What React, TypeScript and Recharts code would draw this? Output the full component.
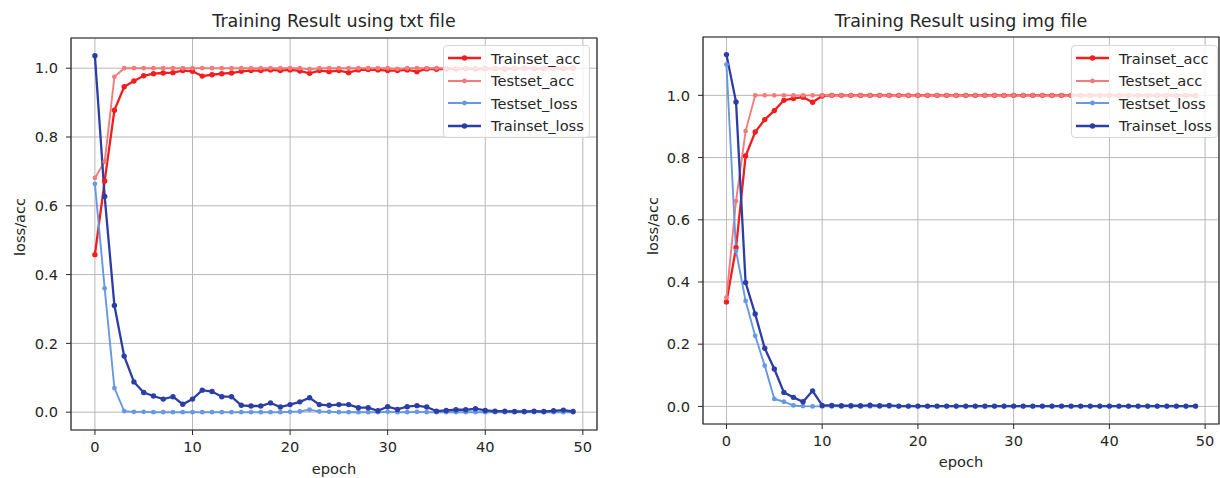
import React from 'react';
import {
  LineChart,
  Line,
  XAxis,
  YAxis,
  CartesianGrid,
  ReferenceArea,
  Legend,
} from 'recharts';

// epochs 0..49
const epochs = Array.from({ length: 50 }, (_, i) => i);

// --- txt file run ---
const txtTrainAcc = [
  0.458, 0.672, 0.878, 0.946, 0.963, 0.978, 0.984, 0.986, 0.987, 0.993,
  0.991, 0.977, 0.981, 0.984, 0.986, 0.991, 0.993, 0.993, 0.995, 0.993,
  0.995, 0.992, 0.985, 0.993, 0.99, 0.993, 0.987, 0.995, 0.996, 0.995,
  0.993, 0.993, 0.995, 0.99, 0.998, 0.997, 0.998, 0.998, 0.999, 0.998,
  0.999, 0.999, 0.998, 0.999, 1.0, 0.999, 0.999, 1.0, 0.999, 1.0,
];
const txtTestAcc = [
  0.681, 0.728, 0.975, 1.0, 1.0, 1.0, 1.0, 1.0, 1.0, 1.0,
  1.0, 1.0, 1.0, 1.0, 1.0, 1.0, 1.0, 1.0, 1.0, 1.0,
  1.0, 1.0, 0.997, 1.0, 1.0, 1.0, 1.0, 1.0, 1.0, 1.0,
  1.0, 0.998, 1.0, 1.0, 1.0, 1.0, 1.0, 1.0, 1.0, 1.0,
  1.0, 1.0, 1.0, 1.0, 1.0, 1.0, 1.0, 1.0, 1.0, 1.0,
];
const txtTestLoss = [
  0.664, 0.36, 0.07, 0.003, 0.001, 0.001, 0.0, 0.0, 0.0, 0.0,
  0.0, 0.0, 0.0, 0.0, 0.0, 0.0, 0.0, 0.0, 0.0, 0.0,
  0.001, 0.002, 0.007, 0.002, 0.001, 0.0, 0.0, 0.0, 0.0, 0.0,
  0.001, 0.0, 0.0, 0.001, 0.0, 0.0, 0.0, 0.0, 0.0, 0.0,
  0.0, 0.0, 0.0, 0.0, 0.0, 0.0, 0.0, 0.0, 0.0, 0.0,
];
const txtTrainLoss = [
  1.036, 0.627, 0.31, 0.163, 0.088, 0.057, 0.047, 0.038, 0.045, 0.023,
  0.038, 0.064, 0.06, 0.045, 0.045, 0.02, 0.018, 0.018, 0.027, 0.015,
  0.022, 0.03, 0.042, 0.022, 0.02, 0.022, 0.022, 0.013, 0.013, 0.004,
  0.016, 0.008, 0.016, 0.019, 0.015, 0.003, 0.005, 0.007, 0.007, 0.01,
  0.005, 0.003, 0.003, 0.002, 0.002, 0.003, 0.002, 0.004, 0.006, 0.002,
];

// --- img file run ---
const imgTrainAcc = [
  0.336, 0.51, 0.805, 0.882, 0.922, 0.951, 0.984, 0.99, 0.994, 0.978,
  0.998, 1.0, 1.0, 1.0, 1.0, 1.0, 1.0, 1.0, 1.0, 1.0,
  1.0, 1.0, 1.0, 1.0, 1.0, 1.0, 1.0, 1.0, 1.0, 1.0,
  1.0, 1.0, 1.0, 1.0, 1.0, 1.0, 1.0, 1.0, 1.0, 1.0,
  1.0, 1.0, 1.0, 1.0, 1.0, 1.0, 1.0, 1.0, 1.0, 1.0,
];
const imgTestAcc = [
  0.35, 0.66, 0.885, 1.0, 1.0, 1.0, 1.0, 1.0, 1.0, 1.0,
  1.0, 1.0, 1.0, 1.0, 1.0, 1.0, 1.0, 1.0, 1.0, 1.0,
  1.0, 1.0, 1.0, 1.0, 1.0, 1.0, 1.0, 1.0, 1.0, 1.0,
  1.0, 1.0, 1.0, 1.0, 1.0, 1.0, 1.0, 1.0, 1.0, 1.0,
  1.0, 1.0, 1.0, 1.0, 1.0, 1.0, 1.0, 1.0, 1.0, 1.0,
];
const imgTestLoss = [
  1.099, 0.5, 0.339, 0.227, 0.131, 0.024, 0.015, 0.003, 0.001, 0.0,
  0.0, 0.0, 0.0, 0.0, 0.0, 0.0, 0.0, 0.0, 0.0, 0.0,
  0.0, 0.0, 0.0, 0.0, 0.0, 0.0, 0.0, 0.0, 0.0, 0.0,
  0.0, 0.0, 0.0, 0.0, 0.0, 0.0, 0.0, 0.0, 0.0, 0.0,
  0.0, 0.0, 0.0, 0.0, 0.0, 0.0, 0.0, 0.0, 0.0, 0.0,
];
const imgTrainLoss = [
  1.131, 0.979, 0.398, 0.297, 0.187, 0.12, 0.045, 0.029, 0.015, 0.05,
  0.003, 0.003, 0.002, 0.002, 0.002, 0.004, 0.002, 0.003, 0.001, 0.001,
  0.001, 0.001, 0.001, 0.001, 0.001, 0.001, 0.001, 0.001, 0.001, 0.001,
  0.001, 0.001, 0.001, 0.001, 0.001, 0.001, 0.001, 0.001, 0.001, 0.001,
  0.001, 0.001, 0.001, 0.001, 0.001, 0.001, 0.001, 0.001, 0.001, 0.001,
];

const xTicks = [0, 10, 20, 30, 40, 50];
const yTicks = [0, 0.2, 0.4, 0.6, 0.8, 1.0];

// plotting order = legend order
const SERIES = [
  { key: 'trainAcc', name: 'Trainset_acc', color: '#f01e1e', width: 2.3, r: 2.7 },
  { key: 'testAcc', name: 'Testset_acc', color: '#f27b7b', width: 1.9, r: 2.4 },
  { key: 'testLoss', name: 'Testset_loss', color: '#6798e2', width: 1.9, r: 2.4 },
  { key: 'trainLoss', name: 'Trainset_loss', color: '#2c3ea6', width: 2.3, r: 2.7 },
];

const FONT = 'DejaVu Sans, sans-serif';
const INK = '#262626';
const X_MIN = -2.45;
const X_MAX = 51.45;

function buildRows(trainAcc: number[], testAcc: number[], testLoss: number[], trainLoss: number[]) {
  return epochs.map((epoch, i) => ({
    epoch,
    trainAcc: trainAcc[i],
    testAcc: testAcc[i],
    testLoss: testLoss[i],
    trainLoss: trainLoss[i],
  }));
}

// matplotlib-style legend box, always in SERIES order
function LegendBox() {
  return (
    <div
      style={{
        boxSizing: 'border-box',
        width: 147,
        height: 93,
        padding: '1px 4px 2px 4px',
        background: 'rgba(255,255,255,0.8)',
        border: '1px solid #d6d6d6',
        borderRadius: 4,
        fontFamily: FONT,
        fontSize: 14.6,
        color: INK,
      }}
    >
      {SERIES.map((s) => (
        <div key={s.key} style={{ display: 'flex', alignItems: 'center', height: 22.5 }}>
          <svg width={33} height={10} style={{ marginRight: 10, flex: 'none' }}>
            <line x1={0} y1={5} x2={33} y2={5} stroke={s.color} strokeWidth={s.width} />
            <circle cx={16.5} cy={5} r={s.r} fill={s.color} />
          </svg>
          <span style={{ whiteSpace: 'nowrap' }}>{s.name}</span>
        </div>
      ))}
    </div>
  );
}

type PanelProps = {
  left: number;
  title: string;
  rows: ReturnType<typeof buildRows>;
  yDomain: [number, number];
  margin: { top: number; right: number; bottom: number; left: number };
  legendAt: { left: number; top: number };
  titleY: number;
  yLabelAt: { x: number; y: number };
  xLabelY: number;
};

function Panel({ left, title, rows, yDomain, margin, legendAt, titleY, yLabelAt, xLabelY }: PanelProps) {
  const W = 610;
  const H = 478;
  const plotCenter = margin.left + 40 + (W - margin.left - 40 - margin.right) / 2;
  const tickStyle = { fill: INK, fontSize: 14.6, fontFamily: FONT };
  return (
    <div style={{ position: 'absolute', left, top: 0, width: W, height: H }}>
      <LineChart width={W} height={H} data={rows} margin={margin}>
        <CartesianGrid stroke="#b8b8b8" strokeWidth={1} />
        <XAxis
          type="number"
          dataKey="epoch"
          domain={[X_MIN, X_MAX]}
          ticks={xTicks}
          allowDataOverflow
          height={30}
          axisLine={false}
          tickSize={5}
          tickMargin={7}
          tickLine={{ stroke: INK }}
          tick={tickStyle}
        />
        <YAxis
          type="number"
          domain={yDomain}
          ticks={yTicks}
          allowDataOverflow
          width={40}
          axisLine={false}
          tickSize={5}
          tickMargin={8}
          tickLine={{ stroke: INK }}
          tick={tickStyle}
          tickFormatter={(v: number) => v.toFixed(1)}
        />
        <ReferenceArea
          x1={X_MIN}
          x2={X_MAX}
          y1={yDomain[0]}
          y2={yDomain[1]}
          fill="none"
          stroke={INK}
          strokeWidth={1.2}
          ifOverflow="visible"
        />
        {SERIES.map((s) => (
          <Line
            key={s.key}
            type="linear"
            dataKey={s.key}
            name={s.name}
            stroke={s.color}
            strokeWidth={s.width}
            dot={{ r: s.r, fill: s.color, stroke: 'none' }}
            activeDot={false}
            isAnimationActive={false}
          />
        ))}
        <Legend
          layout="vertical"
          align="center"
          verticalAlign="middle"
          wrapperStyle={{ left: legendAt.left, top: legendAt.top, width: 147, height: 93 }}
          content={() => <LegendBox />}
        />
      </LineChart>
      <svg
        width={W}
        height={H}
        style={{ position: 'absolute', left: 0, top: 0, pointerEvents: 'none' }}
        fontFamily={FONT}
        fill={INK}
      >
        <text x={plotCenter} y={titleY} fontSize={17.5} textAnchor="middle">
          {title}
        </text>
        <text x={plotCenter} y={xLabelY} fontSize={14.6} textAnchor="middle">
          epoch
        </text>
        <text
          x={yLabelAt.x}
          y={yLabelAt.y}
          fontSize={14.6}
          textAnchor="middle"
          transform={`rotate(-90 ${yLabelAt.x} ${yLabelAt.y})`}
        >
          loss/acc
        </text>
      </svg>
    </div>
  );
}

export default function App() {
  const txtRows = buildRows(txtTrainAcc, txtTestAcc, txtTestLoss, txtTrainLoss);
  const imgRows = buildRows(imgTrainAcc, imgTestAcc, imgTestLoss, imgTrainLoss);
  return (
    <div
      style={{
        position: 'absolute',
        left: 0,
        top: 0,
        width: 1220,
        height: 478,
        background: '#fff',
        overflow: 'hidden',
      }}
    >
      <Panel
        left={0}
        title="Training Result using txt file"
        rows={txtRows}
        yDomain={[-0.0518, 1.0878]}
        margin={{ top: 38, right: 13, bottom: 18, left: 31 }}
        legendAt={{ left: 443, top: 45 }}
        titleY={27}
        yLabelAt={{ x: 25, y: 227 }}
        xLabelY={474}
      />
      <Panel
        left={610}
        title="Training Result using img file"
        rows={imgRows}
        yDomain={[-0.0566, 1.1876]}
        margin={{ top: 37, right: 1, bottom: 24, left: 53 }}
        legendAt={{ left: 461, top: 45 }}
        titleY={27}
        yLabelAt={{ x: 48, y: 226 }}
        xLabelY={467}
      />
    </div>
  );
}
